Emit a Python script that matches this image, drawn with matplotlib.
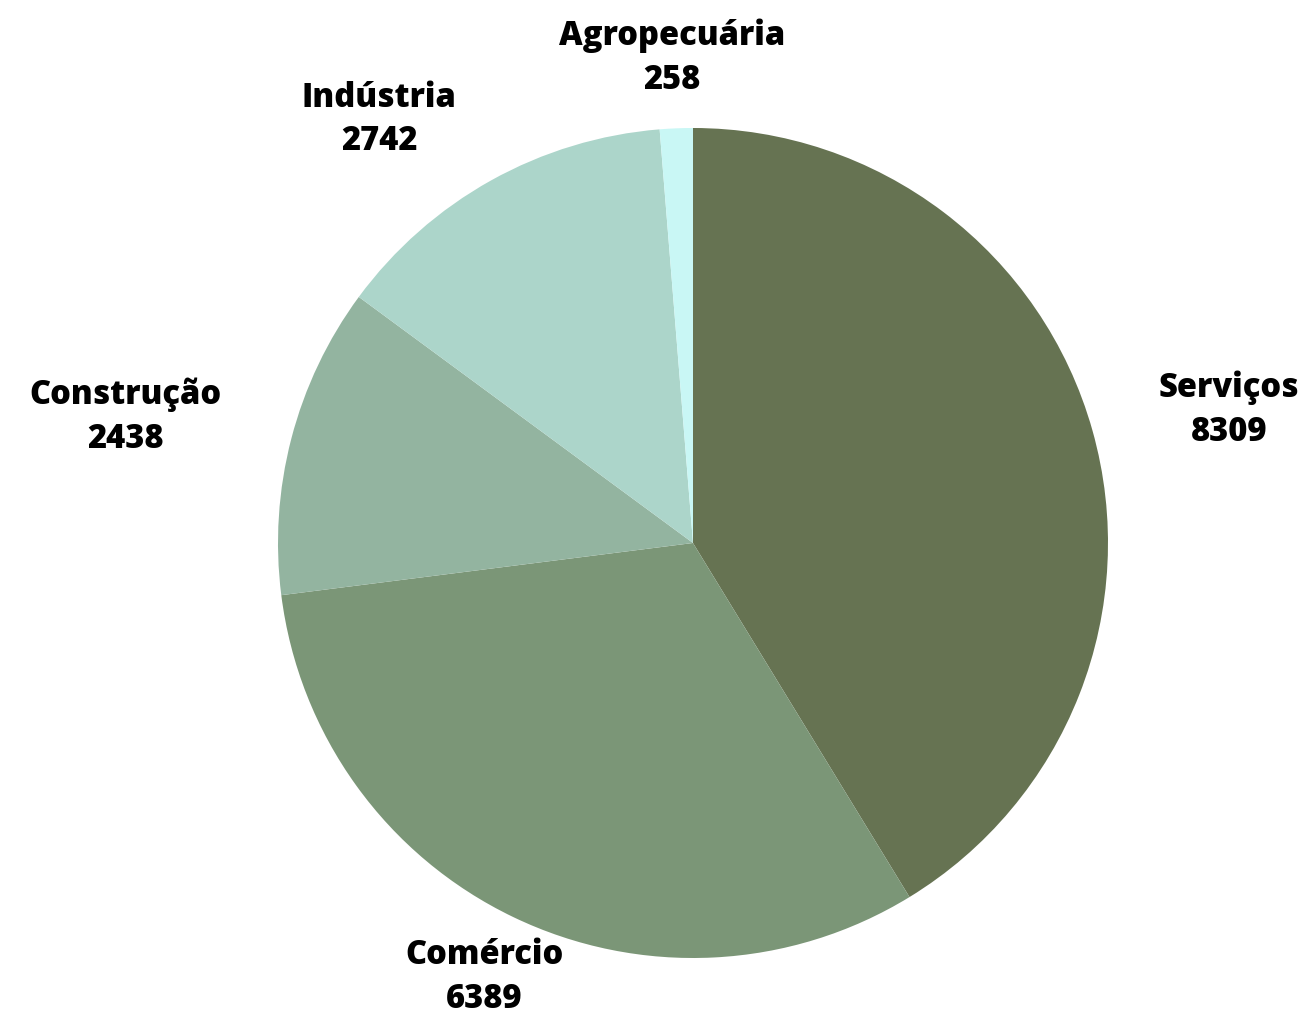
import matplotlib.pyplot as plt
import numpy as np

sectors = ["Serviços", "Comércio", "Construção", "Indústria", "Agropecuária"]
counts = [8309, 6389, 2438, 2742, 258]
colors = ["#667352", "#7b9677", "#93b4a0", "#acd5ca", "#c9f7f5"]

# label placement (distance in radii, angle tweak in degrees)
label_dist = [1.33, 1.16, 1.40, 1.27, 1.17]
label_turn = [-1.8, 0.0, 2.0, 7.4, 0.2]

plt.rcParams["font.family"] = ["Open Sans", "DejaVu Sans"]

fig = plt.figure(figsize=(13.07, 10.15), dpi=100)
ax = fig.add_axes([0, 0, 1, 1])

wedges, _ = ax.pie(counts, colors=colors, startangle=90, counterclock=False,
                   radius=1.0, wedgeprops={"linewidth": 0})

for w, name, n, d, t in zip(wedges, sectors, counts, label_dist, label_turn):
    mid = np.deg2rad((w.theta1 + w.theta2) / 2 + t)
    ax.text(d * np.cos(mid), d * np.sin(mid), f"{name}\n{n}",
            ha="center", va="center", fontsize=23.5, fontweight="heavy",
            linespacing=1.38, color="#000000")

R = 415
ax.set_xlim(-693 / R, (1307 - 693) / R)
ax.set_ylim(-(1015 - 543) / R, 543 / R)
ax.set_aspect("equal")
ax.axis("off")

fig.savefig("out.png", dpi=100)
